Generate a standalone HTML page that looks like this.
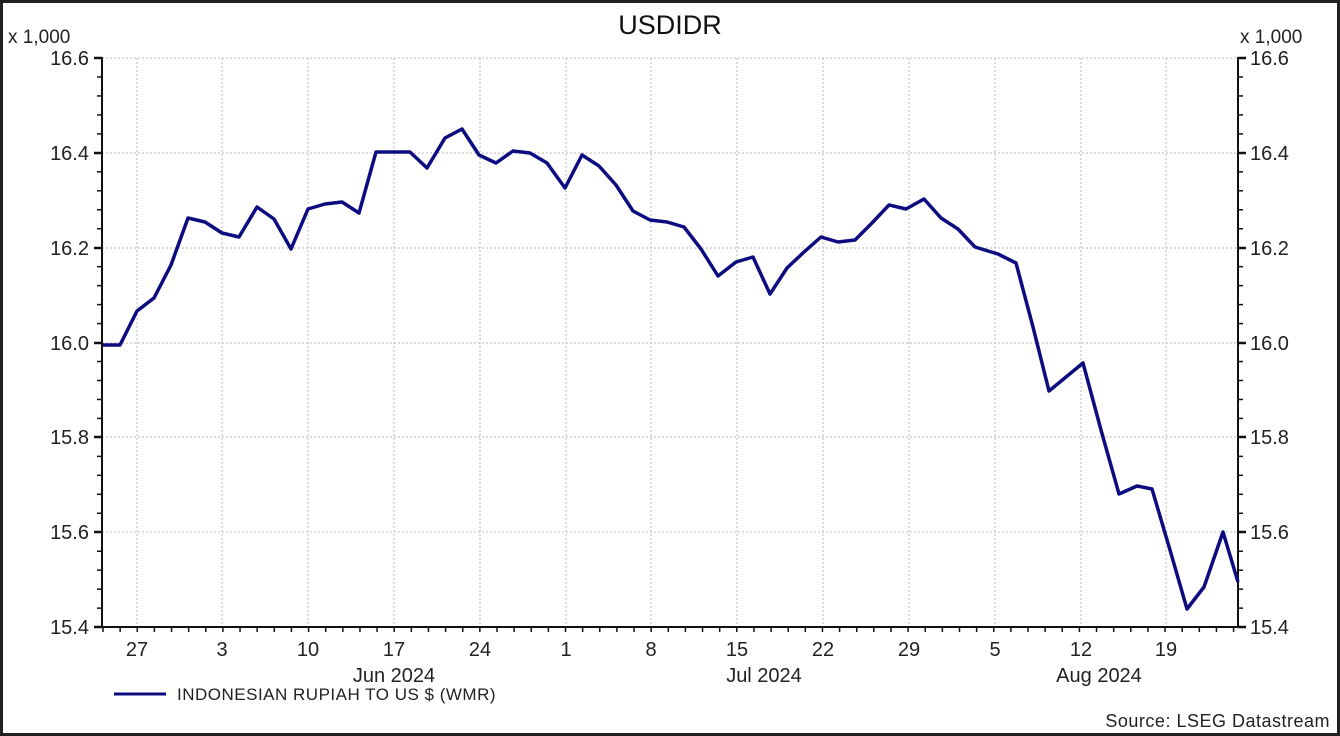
<!DOCTYPE html>
<html><head><meta charset="utf-8"><style>
body{margin:0;background:#fff;}
svg{display:block;font-family:"Liberation Sans",Arial,sans-serif;}
</style></head><body>
<svg width="1340" height="736" viewBox="0 0 1340 736" xmlns="http://www.w3.org/2000/svg">
<rect x="1.5" y="1.5" width="1337" height="733" fill="#fff" stroke="#222" stroke-width="3"/>
<text x="670" y="34" font-size="27" text-anchor="middle" fill="#111">USDIDR</text>
<text x="8" y="43" font-size="19" fill="#222">x 1,000</text>
<text x="1240" y="43" font-size="19" fill="#222">x 1,000</text>
<g stroke="#bbb" stroke-width="1" stroke-dasharray="2,2">
<line x1="102" y1="58" x2="1238" y2="58"/><line x1="102" y1="153" x2="1238" y2="153"/><line x1="102" y1="248" x2="1238" y2="248"/><line x1="102" y1="343" x2="1238" y2="343"/><line x1="102" y1="437" x2="1238" y2="437"/><line x1="102" y1="532" x2="1238" y2="532"/>
<line x1="137" y1="58" x2="137" y2="627"/><line x1="222" y1="58" x2="222" y2="627"/><line x1="308" y1="58" x2="308" y2="627"/><line x1="394" y1="58" x2="394" y2="627"/><line x1="480" y1="58" x2="480" y2="627"/><line x1="566" y1="58" x2="566" y2="627"/><line x1="651" y1="58" x2="651" y2="627"/><line x1="737" y1="58" x2="737" y2="627"/><line x1="823" y1="58" x2="823" y2="627"/><line x1="909" y1="58" x2="909" y2="627"/><line x1="995" y1="58" x2="995" y2="627"/><line x1="1081" y1="58" x2="1081" y2="627"/><line x1="1166" y1="58" x2="1166" y2="627"/>
</g>
<g stroke="#111" stroke-width="2">
<line x1="102" y1="57" x2="102" y2="628"/><line x1="1238" y1="57" x2="1238" y2="628"/><line x1="101" y1="627" x2="1239" y2="627"/>
</g>
<g stroke="#111" stroke-width="2.5">
<line x1="94" y1="58" x2="102" y2="58"/><line x1="94" y1="153" x2="102" y2="153"/><line x1="94" y1="248" x2="102" y2="248"/><line x1="94" y1="343" x2="102" y2="343"/><line x1="94" y1="437" x2="102" y2="437"/><line x1="94" y1="532" x2="102" y2="532"/><line x1="94" y1="627" x2="102" y2="627"/>
<line x1="1238" y1="58" x2="1246" y2="58"/><line x1="1238" y1="153" x2="1246" y2="153"/><line x1="1238" y1="248" x2="1246" y2="248"/><line x1="1238" y1="343" x2="1246" y2="343"/><line x1="1238" y1="437" x2="1246" y2="437"/><line x1="1238" y1="532" x2="1246" y2="532"/><line x1="1238" y1="627" x2="1246" y2="627"/>
</g>
<g stroke="#111" stroke-width="1.5" id="minor"></g>
<g font-size="20" fill="#222" text-anchor="end">
<text x="89" y="65">16.6</text><text x="89" y="160">16.4</text><text x="89" y="255">16.2</text><text x="89" y="350">16.0</text><text x="89" y="444">15.8</text><text x="89" y="539">15.6</text><text x="89" y="634">15.4</text>
</g>
<g font-size="20" fill="#222" text-anchor="start">
<text x="1250" y="65">16.6</text><text x="1250" y="160">16.4</text><text x="1250" y="255">16.2</text><text x="1250" y="350">16.0</text><text x="1250" y="444">15.8</text><text x="1250" y="539">15.6</text><text x="1250" y="634">15.4</text>
</g>
<g font-size="20" fill="#222" text-anchor="middle">
<text x="137" y="656">27</text><text x="222" y="656">3</text><text x="308" y="656">10</text><text x="394" y="656">17</text><text x="480" y="656">24</text><text x="566" y="656">1</text><text x="651" y="656">8</text><text x="737" y="656">15</text><text x="823" y="656">22</text><text x="909" y="656">29</text><text x="995" y="656">5</text><text x="1081" y="656">12</text><text x="1166" y="656">19</text>
<text x="394" y="682">Jun 2024</text><text x="764" y="682">Jul 2024</text><text x="1099" y="682">Aug 2024</text>
</g>
<polyline fill="none" stroke="#0c0c80" stroke-width="3.5" stroke-linejoin="round" points="103,345 120,345 137,311 154,298 171,265 188,218 205,222 222,233 239,237 257,207 274,219 291,249 308,209 325,204 342,202 359,213 376,152 393,152 410,152 427,168 445,138 462,129 479,155 496,163 513,151 530,153 547,163 565,188 582,155 599,166 616,185 633,211 650,220 667,222 684,227 701,249 718,276 736,262 753,257 770,294 787,268 804,252 821,237 838,242 855,240 872,223 889,205 906,209 924,199 941,218 958,229 975,247 998,254 1016,263 1033,327 1049,391 1066,377 1083,363 1101,430 1119,494 1137,486 1152,489 1170,550 1187,609 1204,587 1223,532 1238,582"/>
<line x1="114" y1="694" x2="166" y2="694" stroke="#0c0c80" stroke-width="3"/>
<text x="177" y="700" font-size="17" fill="#222" letter-spacing="0.5">INDONESIAN RUPIAH TO US $ (WMR)</text>
<text x="1330" y="727" font-size="18" fill="#222" text-anchor="end" letter-spacing="0.5">Source: LSEG Datastream</text>
</svg>
<script>
var g=document.getElementById('minor'),s='';
for(var i=0;i<30;i++){if(i%5==0)continue;var y=58+i*18.97;s+='<line x1="97" y1="'+y+'" x2="102" y2="'+y+'"/><line x1="1238" y1="'+y+'" x2="1243" y2="'+y+'"/>';}
for(var d=0;d<67;d++){var x=103+d*17.13;if(x>1238)break;s+='<line x1="'+x+'" y1="627" x2="'+x+'" y2="632"/>';}
g.innerHTML=s;
</script>
</body></html>
